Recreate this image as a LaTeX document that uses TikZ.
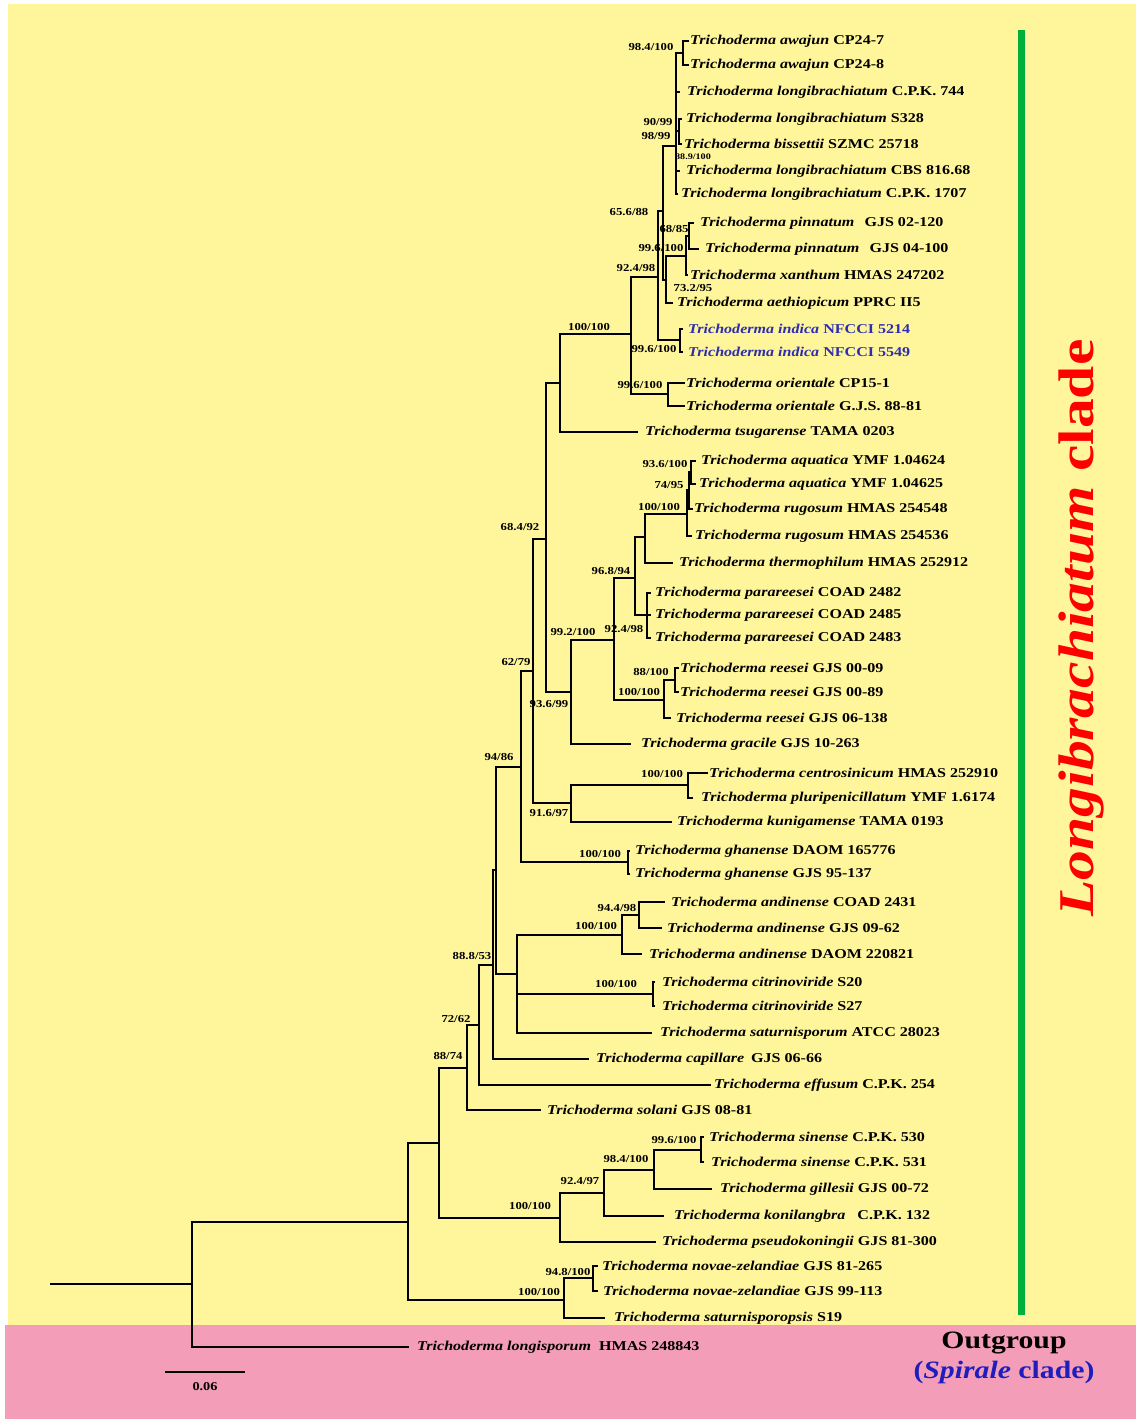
\documentclass[tikz,border=0pt]{standalone}
\usepackage{fontspec}
\setmainfont[FakeStretch=1.19]{Liberation Serif}
\definecolor{bgyellow}{RGB}{255,246,155}
\definecolor{bgpink}{RGB}{243,157,185}
\definecolor{barGreen}{RGB}{0,176,60}
\definecolor{indblue}{RGB}{45,45,175}
\definecolor{spblue}{RGB}{30,30,190}
\tikzset{
  br/.style={line width=1.8pt, line cap=rect},
  tiplab/.style={anchor=west, inner sep=0pt, font=\fontsize{13.5}{16}\selectfont\bfseries},
  sup/.style={inner sep=0pt, font=\fontsize{10.7}{12}\selectfont\bfseries},
  supsmall/.style={inner sep=0pt, font=\fontsize{8.5}{10}\selectfont\bfseries},
}
\newcommand\tipx[7][]{\coordinate (#2) at (#3,#5); \node[tiplab,#1] (#2l) at (#4,#5) {\textit{Trichoderma #6} #7};}
\newcommand\clade[4]{\draw[br] (#1 |- #2) -- (#1 |- #3); \foreach \c in {#4}{\draw[br] (#1 |- \c) -- (\c);}}
\begin{document}
\begin{tikzpicture}[x=1pt,y=-1pt]
\useasboundingbox (0,0) rectangle (1136,1419);
\fill[white] (0,0) rectangle (1136,1419);
\fill[bgyellow] (8,4) rectangle (1136,1325);
\fill[bgpink] (5,1325) rectangle (1136,1419);

% tips
\tipx{t1}{688}{690}{41}{awajun}{CP24-7}
\tipx{t2}{688}{690}{65}{awajun}{CP24-8}
\tipx{t3}{679}{687}{92}{longibrachiatum}{C.P.K. 744}
\tipx{t4}{681}{686}{119}{longibrachiatum}{S328}
\tipx{t5}{681}{684}{144}{bissettii}{SZMC 25718}
\tipx{t6}{679}{686}{171}{longibrachiatum}{CBS 816.68}
\tipx{t7}{677}{681}{194}{longibrachiatum}{C.P.K. 1707}
\tipx{t8}{693}{700}{223}{pinnatum}{\hspace{6pt}GJS 02-120}
\tipx{t9}{698}{705}{249}{pinnatum}{\hspace{6pt}GJS 04-100}
\tipx{t10}{687}{690}{275}{xanthum}{HMAS 247202}
\tipx{t11}{672}{677}{303}{aethiopicum}{PPRC II5}
\tipx[text=indblue]{t12}{682}{688}{329}{indica}{NFCCI 5214}
\tipx[text=indblue]{t13}{682}{688}{352}{indica}{NFCCI 5549}
\tipx{t14}{684}{686}{383}{orientale}{CP15-1}
\tipx{t15}{684}{686}{406}{orientale}{G.J.S. 88-81}
\tipx{t16}{637}{645}{432}{tsugarense}{TAMA 0203}
\tipx{t17}{695}{701}{461}{aquatica}{YMF 1.04624}
\tipx{t18}{695}{699}{484}{aquatica}{YMF 1.04625}
\tipx{t19}{692}{694}{509}{rugosum}{HMAS 254548}
\tipx{t20}{691}{695}{536}{rugosum}{HMAS 254536}
\tipx{t21}{672}{679}{563}{thermophilum}{HMAS 252912}
\tipx{t22}{650}{655}{593}{parareesei}{COAD 2482}
\tipx{t23}{650}{655}{615}{parareesei}{COAD 2485}
\tipx{t24}{650}{655}{638}{parareesei}{COAD 2483}
\tipx{t25}{678}{680}{668}{reesei}{GJS 00-09}
\tipx{t26}{678}{680}{692}{reesei}{GJS 00-89}
\tipx{t27}{670}{676}{718}{reesei}{GJS 06-138}
\tipx{t28}{630}{641}{744}{gracile}{GJS 10-263}
\tipx{t29}{707}{709}{773}{centrosinicum}{HMAS 252910}
\tipx{t30}{692}{701}{798}{pluripenicillatum}{YMF 1.6174}
\tipx{t31}{671}{677}{822}{kunigamense}{TAMA 0193}
\tipx{t32}{629}{635}{851}{ghanense}{DAOM 165776}
\tipx{t33}{629}{635}{874}{ghanense}{GJS 95-137}
\tipx{t34}{664}{671}{902}{andinense}{COAD 2431}
\tipx{t35}{661}{667}{928}{andinense}{GJS 09-62}
\tipx{t36}{641}{649}{954}{andinense}{DAOM 220821}
\tipx{t37}{654}{662}{982}{citrinoviride}{S20}
\tipx{t38}{654}{662}{1006}{citrinoviride}{S27}
\tipx{t39}{651}{660}{1033}{saturnisporum}{ATCC 28023}
\tipx{t40}{588}{596}{1059}{capillare}{\hspace{3pt}GJS 06-66}
\tipx{t41}{710}{714}{1085}{effusum}{C.P.K. 254}
\tipx{t42}{540}{547}{1110}{solani}{GJS 08-81}
\tipx{t43}{703}{709}{1137}{sinense}{C.P.K. 530}
\tipx{t44}{703}{711}{1162}{sinense}{C.P.K. 531}
\tipx{t45}{711}{720}{1189}{gillesii}{GJS 00-72}
\tipx{t46}{663}{674}{1216}{konilangbra}{\hspace{8pt}C.P.K. 132}
\tipx{t47}{655}{662}{1242}{pseudokoningii}{GJS 81-300}
\tipx{t48}{597}{602}{1266}{novae-zelandiae}{GJS 81-265}
\tipx{t49}{597}{603}{1291}{novae-zelandiae}{GJS 99-113}
\tipx{t50}{604}{614}{1318}{saturnisporopsis}{S19}
\tipx{t51}{408}{417}{1347}{longisporum}{\hspace{4pt}HMAS 248843}

% internal nodes (x, entry y)
\coordinate (awN) at (683,53);
\coordinate (n90) at (679,131);
\coordinate (M) at (676,146);
\coordinate (pinN) at (689,236);
\coordinate (n99) at (686,256);
\coordinate (L) at (666,280);
\coordinate (K) at (663,211);
\coordinate (indN) at (680,340);
\coordinate (G) at (658,277);
\coordinate (oriN) at (668,394);
\coordinate (I) at (631,334);
\coordinate (J) at (560,383);
\coordinate (W) at (691,472);
\coordinate (V) at (689,490);
\coordinate (U) at (687,514);
\coordinate (T) at (645,537);
\coordinate (S) at (647,615);
\coordinate (R) at (635,578);
\coordinate (X) at (675,680);
\coordinate (Q) at (664,700);
\coordinate (P) at (614,640);
\coordinate (O) at (571,692);
\coordinate (N) at (546,539);
\coordinate (Z) at (688,785);
\coordinate (Y) at (571,803);
\coordinate (AA) at (533,671);
\coordinate (ghN) at (628,862);
\coordinate (AB) at (521,767);
\coordinate (AM) at (639,915);
\coordinate (AL) at (622,935);
\coordinate (AN) at (653,994);
\coordinate (AD) at (517,974);
\coordinate (AC) at (496,870);
\coordinate (AE) at (493,965);
\coordinate (AF) at (479,1025);
\coordinate (AG) at (467,1068);
\coordinate (AJ) at (701,1150);
\coordinate (AI) at (654,1170);
\coordinate (AH) at (604,1193);
\coordinate (D) at (560,1218);
\coordinate (A) at (439,1143);
\coordinate (AK) at (593,1278);
\coordinate (B) at (564,1300);
\coordinate (ING) at (408,1222);
\coordinate (ROOT) at (192,1284);
\coordinate (R0) at (51,1284);

% branches
\clade{awN}{t1}{t2}{t1,t2}
\clade{n90}{t4}{t5}{t4,t5}
\clade{M}{awN}{t7}{awN,t3,n90,t6,t7}
\clade{pinN}{t8}{t9}{t8,t9}
\clade{n99}{pinN}{t10}{pinN,t10}
\clade{L}{n99}{t11}{n99,t11}
\clade{K}{M}{L}{M,L}
\clade{indN}{t12}{t13}{t12,t13}
\clade{G}{K}{indN}{K,indN}
\clade{oriN}{t14}{t15}{t14,t15}
\clade{I}{G}{oriN}{G,oriN}
\clade{J}{I}{t16}{I,t16}
\clade{W}{t17}{t18}{t17,t18}
\clade{V}{W}{t19}{W,t19}
\clade{U}{V}{t20}{V,t20}
\clade{T}{U}{t21}{U,t21}
\clade{S}{t22}{t24}{t22,t23,t24}
\clade{R}{T}{S}{T,S}
\clade{X}{t25}{t26}{t25,t26}
\clade{Q}{X}{t27}{X,t27}
\clade{P}{R}{Q}{R,Q}
\clade{O}{P}{t28}{P,t28}
\clade{N}{J}{O}{J,O}
\clade{Z}{t29}{t30}{t29,t30}
\clade{Y}{Z}{t31}{Z,t31}
\clade{AA}{N}{Y}{N,Y}
\clade{ghN}{t32}{t33}{t32,t33}
\clade{AB}{AA}{ghN}{AA,ghN}
\clade{AM}{t34}{t35}{t34,t35}
\clade{AL}{AM}{t36}{AM,t36}
\clade{AN}{t37}{t38}{t37,t38}
\clade{AD}{AL}{t39}{AL,AN,t39}
\clade{AC}{AB}{AD}{AB,AD}
\clade{AE}{AC}{t40}{AC,t40}
\clade{AF}{AE}{t41}{AE,t41}
\clade{AG}{AF}{t42}{AF,t42}
\clade{AJ}{t43}{t44}{t43,t44}
\clade{AI}{AJ}{t45}{AJ,t45}
\clade{AH}{AI}{t46}{AI,t46}
\clade{D}{AH}{t47}{AH,t47}
\clade{A}{AG}{D}{AG,D}
\clade{AK}{t48}{t49}{t48,t49}
\clade{B}{AK}{t50}{AK,t50}
\clade{ING}{A}{B}{A,B}
\clade{ROOT}{ING}{t51}{ING,t51}
\draw[br] (R0) -- (ROOT);

% support values
\node[sup] (s1) at (651,47) {98.4/100};
\node[sup] (s2) at (658,122) {90/99};
\node[sup] (s3) at (656,136) {98/99};
\node[supsmall] (s4) at (693,157) {88.9/100};
\node[sup] (s5) at (629,212) {65.6/88};
\node[sup] (s6) at (674,229) {68/85};
\node[sup] (s7) at (661,248) {99.6/100};
\node[sup] (s8) at (636,268) {92.4/98};
\node[sup] (s9) at (693,288) {73.2/95};
\node[sup] (s10) at (589,327) {100/100};
\node[sup] (s11) at (654,349) {99.6/100};
\node[sup] (s12) at (640,385) {99.6/100};
\node[sup] (s13) at (665,464) {93.6/100};
\node[sup] (s14) at (669,485) {74/95};
\node[sup] (s15) at (659,507) {100/100};
\node[sup] (s16) at (520,527) {68.4/92};
\node[sup] (s17) at (611,571) {96.8/94};
\node[sup] (s18) at (573,632) {99.2/100};
\node[sup] (s19) at (624,629) {92.4/98};
\node[sup] (s20) at (516,662) {62/79};
\node[sup] (s21) at (651,672) {88/100};
\node[sup] (s22) at (639,692) {100/100};
\node[sup] (s23) at (549,704) {93.6/99};
\node[sup] (s24) at (499,757) {94/86};
\node[sup] (s25) at (662,774) {100/100};
\node[sup] (s26) at (549,813) {91.6/97};
\node[sup] (s27) at (600,854) {100/100};
\node[sup] (s28) at (617,908) {94.4/98};
\node[sup] (s29) at (596,926) {100/100};
\node[sup] (s30) at (472,956) {88.8/53};
\node[sup] (s31) at (616,984) {100/100};
\node[sup] (s32) at (456,1019) {72/62};
\node[sup] (s33) at (448,1056) {88/74};
\node[sup] (s34) at (674,1140) {99.6/100};
\node[sup] (s35) at (626,1159) {98.4/100};
\node[sup] (s36) at (580,1181) {92.4/97};
\node[sup] (s37) at (530,1206) {100/100};
\node[sup] (s38) at (568,1272) {94.8/100};
\node[sup] (s39) at (539,1292) {100/100};

% scale bar
\coordinate (sb1) at (165,1372);
\coordinate (sb2) at (245,1372);
\draw[br, line cap=butt] (sb1) -- (sb2);
\node[inner sep=0pt, font=\fontsize{12}{14}\selectfont\bfseries] (sbl) at (205,1387) {0.06};

% clade bar and labels
\coordinate (gb1) at (1021,30);
\coordinate (gb2) at (1021,1315);
\draw[barGreen, line width=7pt] (gb1) -- (gb2);
\node[rotate=90, text=red, inner sep=0pt, font=\fontsize{50}{55}\selectfont\bfseries] (clade) at (1081,628) {\textit{Longibrachiatum} clade};
\node[inner sep=0pt, font=\fontsize{25}{28}\selectfont\bfseries] (og) at (1004,1343) {Outgroup};
\node[inner sep=0pt, text=spblue, font=\fontsize{25}{28}\selectfont\bfseries] (sp) at (1004,1372) {(\textit{Spirale} clade)};
\end{tikzpicture}
\end{document}
